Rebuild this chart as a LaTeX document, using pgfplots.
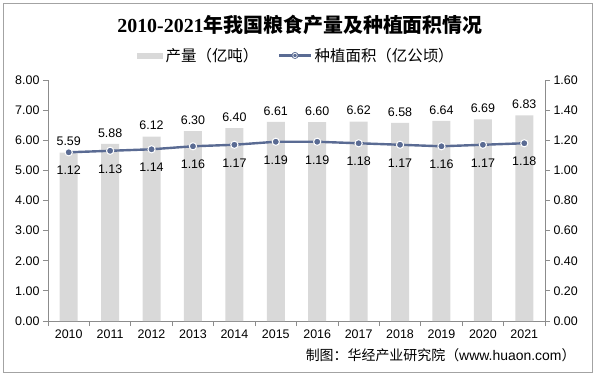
\documentclass[border=0pt]{standalone}
\usepackage{pgfplots}
\pgfplotsset{compat=1.18}
\usepackage{fontspec}
\setmainfont{Liberation Sans}
\newfontfamily\cjk{Noto Sans CJK SC}
\newfontfamily\serifdigits{Liberation Serif}
\definecolor{barc}{HTML}{D9D9D9}
\definecolor{linec}{HTML}{5A6B93}
\definecolor{axc}{HTML}{8C8C8C}
\tikzset{
  twodec/.style={/pgf/number format/fixed, /pgf/number format/fixed zerofill, /pgf/number format/precision=2, /pgf/number format/assume math mode=true},
}
\begin{document}
\begin{tikzpicture}
\path[use as bounding box] (0,0) rectangle (598bp,376bp);
\draw[axc!80, line width=0.8bp] (3bp,4bp) rectangle (592bp,373bp);
\node[font=\fontsize{20}{22}\selectfont\bfseries] at (300bp,351bp) {{\serifdigits 2010-2021}{\cjk 年我国粮食产量及种植面积情况}};
\node[anchor=east, font=\fontsize{14}{16}\selectfont] at (579bp,21bp) {{\cjk 制图：华经产业研究院（}www.huaon.com{\cjk ）}};
\begin{axis}[
  at={(48bp,55bp)}, anchor=south west,
  scale only axis, width=497bp, height=241bp,
  xmin=-0.5, xmax=11.5, ymin=0, ymax=8,
  axis x line*=bottom, axis y line*=left,
  axis line style={axc, line width=0.8bp, -},
  tick align=outside,
  xtick={0,...,11},
  xticklabels={2010,2011,2012,2013,2014,2015,2016,2017,2018,2019,2020,2021},
  major x tick style={draw=none},
  minor xtick={-0.5,0.5,...,11.5},
  minor x tick style={axc, line width=0.8bp},
  minor tick length=5bp,
  ytick={0,1,...,8},
  y tick style={axc, line width=0.8bp},
  major tick length=5bp,
  yticklabel style={twodec},
  /pgf/number format/assume math mode=true,
  tick label style={font=\fontsize{12.5}{14}\selectfont, black},
  ybar, bar width=18bp,
  clip=false,
]
\addplot[fill=barc, draw=none, nodes near coords,
  nodes near coords style={font=\fontsize{12.5}{14}\selectfont, black, yshift=3bp, twodec}] coordinates {
(0,5.59) (1,5.88) (2,6.12) (3,6.30) (4,6.40) (5,6.61)
(6,6.60) (7,6.62) (8,6.58) (9,6.64) (10,6.69) (11,6.83)};
\end{axis}
\begin{axis}[
  at={(48bp,55bp)}, anchor=south west,
  scale only axis, width=497bp, height=241bp,
  xmin=-0.5, xmax=11.5, ymin=0, ymax=1.6,
  axis x line=none, axis y line*=right,
  axis line style={axc, line width=0.8bp, -},
  tick align=outside,
  ytick={0,0.2,...,1.6},
  y tick style={axc, line width=0.8bp},
  major tick length=5bp,
  yticklabel style={twodec},
  /pgf/number format/assume math mode=true,
  tick label style={font=\fontsize{12.5}{14}\selectfont, black},
  clip=false,
  legend style={at={(0.5,1)}, anchor=south, yshift=13bp, draw=none, fill=none,
    legend columns=2, font=\fontsize{15.5}{17}\selectfont\cjk,
    /tikz/every odd column/.append style={column sep=1bp},
    /tikz/every even column/.append style={column sep=18bp}},
]
\addlegendimage{legend image code/.code={\fill[barc] (0cm,-0.08cm) rectangle (0.88cm,0.08cm);}}
\addlegendentry{产量（亿吨）}
\addplot[linec, line width=2.4bp, mark=*, mark size=3.6bp,
  mark options={fill=linec, draw=white, line width=1bp},
  nodes near coords,
  nodes near coords style={anchor=north, yshift=-10bp, black, font=\fontsize{12.5}{14}\selectfont, twodec},
  legend image code/.code={\draw[linec, line width=2.2bp] (0cm,0cm) -- (1.1cm,0cm); \fill[linec] (0.55cm,0cm) circle (2.2bp); \draw[white, line width=0.6bp] (0.55cm,0cm) circle (2.2bp);}
] coordinates {
(0,1.12) (1,1.13) (2,1.14) (3,1.16) (4,1.17) (5,1.19)
(6,1.19) (7,1.18) (8,1.17) (9,1.16) (10,1.17) (11,1.18)};
\addlegendentry{种植面积（亿公顷）}
\end{axis}
\end{tikzpicture}
\end{document}
